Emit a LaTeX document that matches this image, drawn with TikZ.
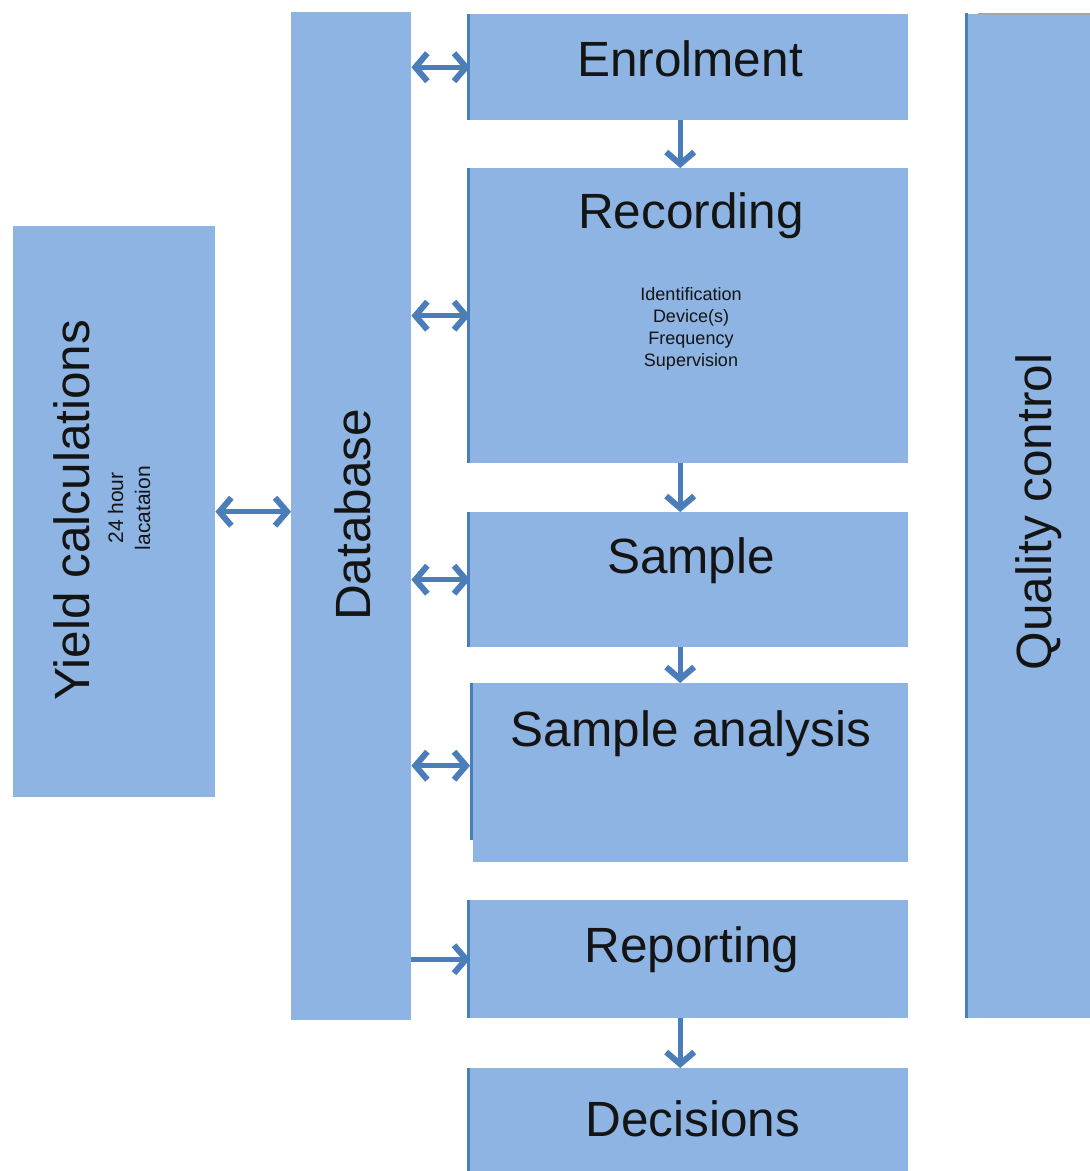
\documentclass[tikz,border=0pt]{standalone}
\usepackage{fontspec}
\setmainfont{Liberation Sans}
\usetikzlibrary{arrows.meta}
\definecolor{boxblue}{HTML}{8EB4E3}
\definecolor{edgeblue}{HTML}{4A7EBB}
\definecolor{arrowblue}{HTML}{4A7DBA}
\definecolor{txt}{HTML}{141414}
\tikzset{
  box/.style={fill=boxblue, draw=none, inner sep=0pt, anchor=north west},
  stripe/.style={draw=edgeblue, line width=3pt},
  big/.style={font=\fontsize{49.5}{56}\selectfont, text=txt, inner sep=0pt},
  small/.style={font=\fontsize{18}{22}\selectfont, text=txt, inner sep=0pt, align=center},
  smallrot/.style={font=\fontsize{21}{27}\selectfont, text=txt, inner sep=0pt, align=center, rotate=90},
  tipb/.tip={Straight Barb[length=12pt,width=28pt,line width=6pt]},
  arr/.style={draw=arrowblue, line width=5pt, -tipb},
  dbl/.style={draw=arrowblue, line width=5pt, tipb-tipb},
}
\begin{document}
\begin{tikzpicture}[x=1pt,y=-1pt]
\useasboundingbox (0,0) rectangle (1090,1171);
\fill[white] (0,0) rectangle (1090,1171);

% boxes
\node[box, minimum width=202pt, minimum height=571pt] (yc) at (13,226) {};
\node[box, minimum width=120pt, minimum height=1008pt] (db) at (291,12) {};
\node[box, minimum width=438pt, minimum height=106pt] (enr) at (470,14) {};
\node[box, minimum width=438pt, minimum height=295pt] (rec) at (470,168) {};
\node[box, minimum width=438pt, minimum height=135pt] (smp) at (470,512) {};
\node[box, minimum width=435pt, minimum height=179pt] (sa) at (473,683) {};
\node[box, minimum width=438pt, minimum height=118pt] (rep) at (470,900) {};
\node[box, minimum width=438pt, minimum height=103pt] (dec) at (470,1068) {};
\node[box, minimum width=122pt, minimum height=1004pt] (qc) at (968,14) {};

% darker left edges
\draw[stripe] ([xshift=-1.5pt]enr.north west) -- ([xshift=-1.5pt]enr.south west);
\draw[stripe] ([xshift=-1.5pt]rec.north west) -- ([xshift=-1.5pt]rec.south west);
\draw[stripe] ([xshift=-1.5pt]smp.north west) -- ([xshift=-1.5pt]smp.south west);
\draw[stripe] ([xshift=-1.5pt]sa.north west) -- ([xshift=-1.5pt,yshift=22pt]sa.south west);
\draw[stripe] ([xshift=-1.5pt]rep.north west) -- ([xshift=-1.5pt]rep.south west);
\draw[stripe] ([xshift=-1.5pt]dec.north west) -- ([xshift=-1.5pt]dec.south west);
\draw[stripe] ([xshift=-1.5pt,yshift=1pt]qc.north west) -- ([xshift=-1.5pt]qc.south west);
\draw[gray!70, line width=1.5pt] ([xshift=10pt]qc.north west) -- (qc.north east);

% texts
\node[big] (tenr) at (690,59) {Enrolment};
\node[big] (trec) at (691,216) {Recording};
\node[small] (trecs) at (691,329) {Identification\\Device(s)\\Frequency\\Supervision};
\node[big] (tsmp) at (691,561) {Sample};
\node[big] (tsa) at (691,734) {Sample analysis};
\node[big] (trep) at (692,950) {Reporting};
\node[big] (tdec) at (693,1119) {Decisions};
\node[big, rotate=90] (tyc) at (72,510) {Yield calculations};
\node[smallrot] (tycs) at (129,508) {24 hour\\lacataion};
\node[big, rotate=90] (tdb) at (353,515) {Database};
\node[big, rotate=90] (tqc) at (1039,512) {Quality control};

% connectors
\draw[dbl] (db.east |- enr.west) -- (enr.west);
\draw[dbl] (db.east |- rec.west) -- (rec.west);
\draw[dbl] (db.east |- smp.west) -- (smp.west);
\draw[dbl] ([yshift=7pt]db.east |- sa.west) -- ([xshift=-3pt,yshift=7pt]sa.west);
\draw[arr] (db.east |- rep.west) -- (rep.west);
\draw[dbl] (yc.east) -- (yc.east -| db.west);

\draw[arr] ([xshift=-9pt]enr.south) -- ([xshift=-9pt]rec.north);
\draw[arr] ([xshift=-9pt]rec.south) -- ([xshift=-9pt]smp.north);
\draw[arr] ([xshift=-9pt]smp.south) -- ([xshift=-9pt]smp.south |- sa.north);
\draw[arr] ([xshift=-9pt]rep.south) -- ([xshift=-9pt]dec.north);
\end{tikzpicture}
\end{document}
